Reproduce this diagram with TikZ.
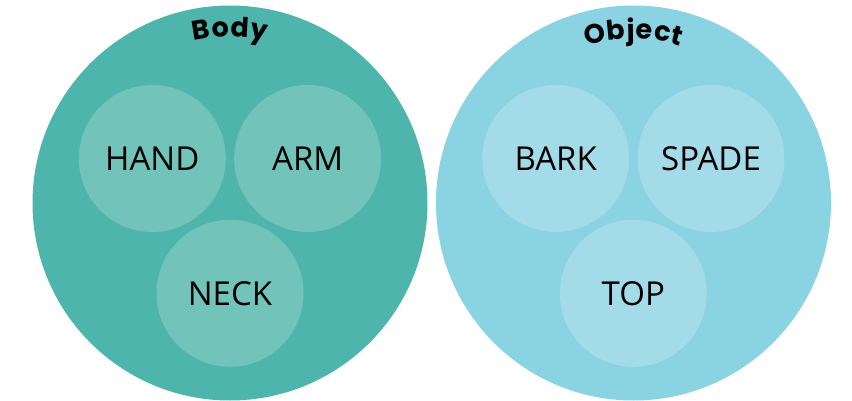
\documentclass[tikz,border=0pt]{standalone}
\usepackage{fontspec}
\setmainfont{Open Sans}
\newfontfamily\titlefont{Poppins}
\usetikzlibrary{decorations.text}
\definecolor{bodydark}{HTML}{4DB5AC}
\definecolor{bodylight}{HTML}{72C3BA}
\definecolor{objdark}{HTML}{8AD3E3}
\definecolor{objlight}{HTML}{A3DBE8}
\newcommand\titlestyle{\titlefont\bfseries\fontsize{27}{32}\selectfont}
\tikzset{
  group/.style={circle, inner sep=0pt, minimum size=395pt},
  item/.style={circle, inner sep=0pt, minimum size=147pt,
    font=\fontsize{33}{39}\selectfont, text=black},
  arctitle/.style={decorate, decoration={text effects along path,
    text={#1}, text align=center,
    text effects/.cd,
      text along path,
      characters={font=\titlestyle, text=black,
        inner xsep=0.4pt, inner ysep=0pt, anchor=base},
      character widths={font=\titlestyle, inner xsep=0.4pt}}}
}
\begin{document}
\begin{tikzpicture}[x=1pt,y=1pt]
\useasboundingbox (0,0) rectangle (852,400);
% outer groups
\node[group, fill=bodydark] (body) at (230,197) {};
\node[group, fill=objdark] (object) at (633.5,197) {};
% members of each group
\node[item, fill=bodylight] (hand) at (152.3,241.5) {HAND};
\node[item, fill=bodylight] (arm) at (307.7,241.5) {ARM};
\node[item, fill=bodylight] (neck) at (230,106.7) {NECK};
\node[item, fill=objlight] (bark) at (555.7,241.5) {BARK};
\node[item, fill=objlight] (spade) at (711,241.5) {SPADE};
\node[item, fill=objlight] (top) at (633.3,106.7) {TOP};
% curved titles along the top of each group
\path[arctitle=Body] ([shift={(body.center)}]125:166) arc[start angle=125, end angle=55, radius=166];
\path[arctitle=Object] ([shift={(object.center)}]125:164) arc[start angle=125, end angle=55, radius=164];
\end{tikzpicture}
\end{document}
